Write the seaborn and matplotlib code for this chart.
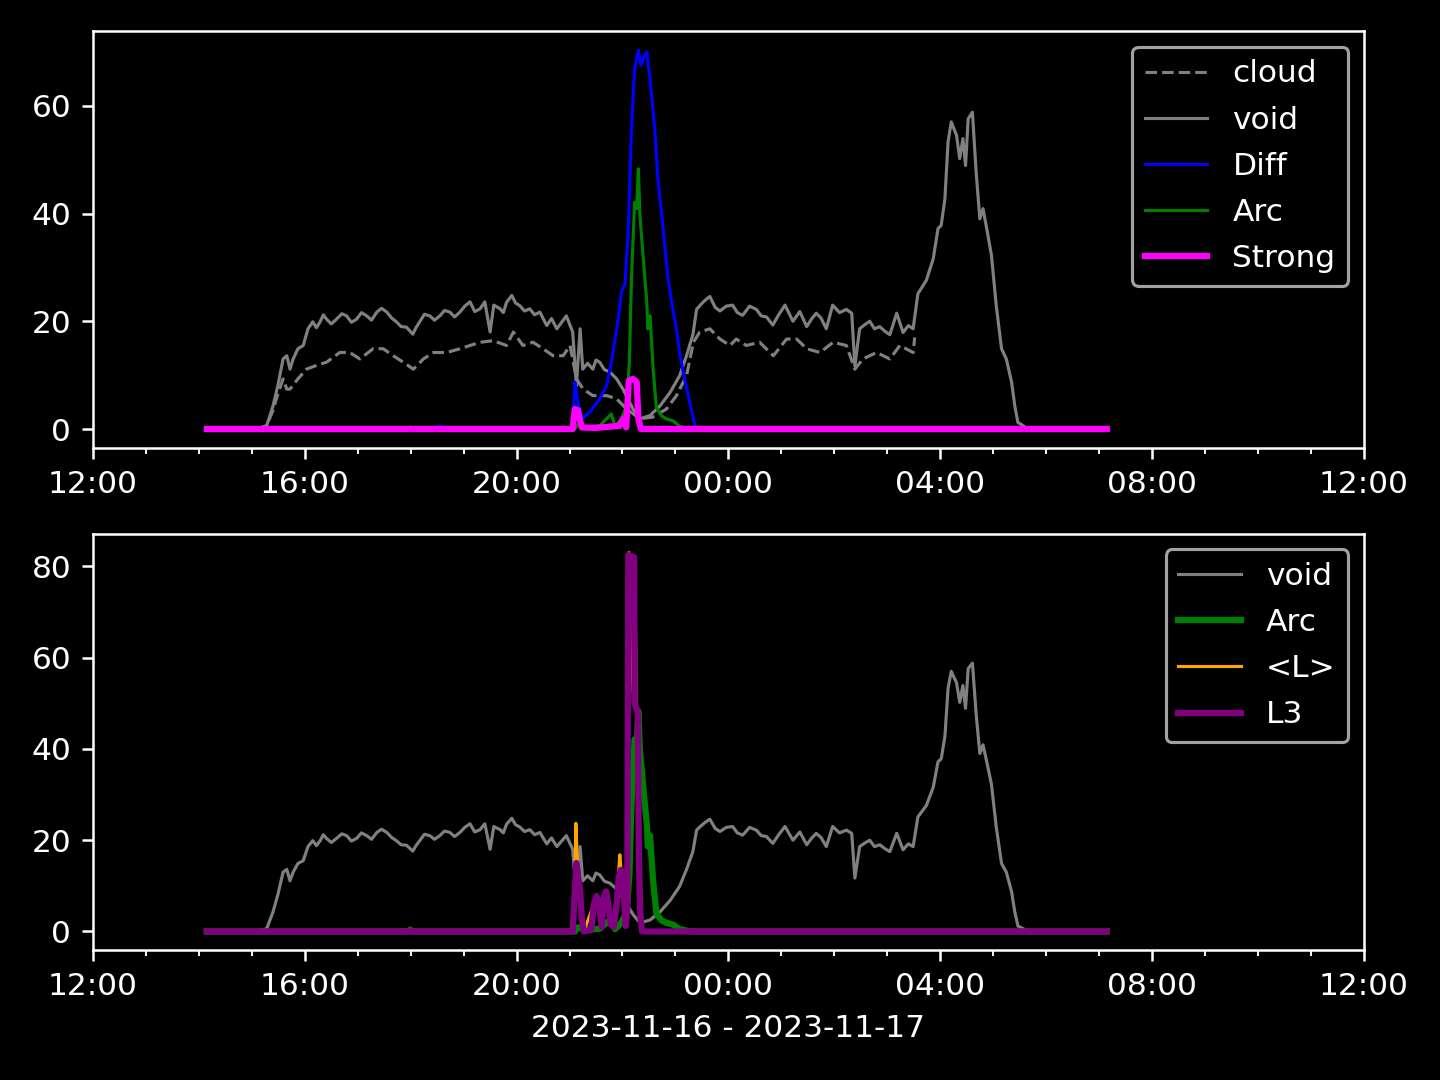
import pandas as pd
import numpy as np
import seaborn as sns
import matplotlib
matplotlib.use("Agg")
import matplotlib.pyplot as plt
import matplotlib.dates as mdates

# hours after 2023-11-16 12:00
void_h = [2.15, 3.06, 3.15, 3.28, 3.40, 3.49, 3.59, 3.66, 3.72, 3.78, 3.87, 3.97, 4.06, 4.15,
          4.22, 4.29, 4.35, 4.41, 4.50, 4.60, 4.70, 4.79, 4.88, 4.98, 5.07, 5.17, 5.26, 5.36,
          5.45, 5.55, 5.64, 5.73, 5.82, 5.92, 6.04, 6.10, 6.17, 6.26, 6.36, 6.45, 6.55, 6.64,
          6.74, 6.83, 6.93, 7.02, 7.12, 7.21, 7.31, 7.40, 7.50, 7.57, 7.69, 7.75, 7.81, 7.91,
          7.98, 8.06, 8.15, 8.25, 8.34, 8.44, 8.57, 8.66, 8.76, 8.85, 8.94, 9.06, 9.13, 9.20,
          9.25, 9.34, 9.44, 9.50, 9.57, 9.66, 9.76, 9.89, 10.01, 10.20, 10.33,
          10.52, 10.71, 10.90, 11.08, 11.21, 11.33, 11.40, 11.46, 11.55, 11.65, 11.75, 11.84,
          11.96, 12.08, 12.17, 12.27, 12.40, 12.53, 12.62, 12.72, 12.84, 12.95, 13.07, 13.15,
          13.22, 13.35, 13.48, 13.57, 13.66, 13.75, 13.85, 13.97, 14.10, 14.23, 14.33, 14.39,
          14.48, 14.58, 14.67, 14.76, 14.86, 14.95, 15.05, 15.18, 15.30, 15.40, 15.49, 15.58,
          15.74, 15.87, 15.96, 16.02, 16.09, 16.15, 16.21, 16.31, 16.37, 16.43, 16.48, 16.53,
          16.61, 16.68, 16.75, 16.81, 16.88, 16.97, 17.06, 17.16, 17.25, 17.35, 17.41, 17.47,
          17.57, 17.65, 19.15]
void_v = [0, 0, 0.2, 0.6, 4.3, 8.0, 13.0, 13.6, 11.1, 13.0, 14.9, 15.5, 18.6, 19.9,
          18.8, 19.9, 21.2, 20.4, 19.5, 20.4, 21.4, 21.0, 19.8, 20.4, 21.6, 21.0, 20.2, 21.7,
          22.4, 21.7, 20.6, 19.9, 19.0, 18.9, 17.6, 18.8, 19.9, 21.3, 21.0, 20.2, 21.0, 22.0,
          21.7, 20.8, 21.7, 22.8, 23.6, 21.8, 22.3, 23.6, 18.0, 23.0, 22.3, 21.6, 23.5, 24.8,
          23.4, 22.9, 21.9, 22.3, 21.2, 21.7, 19.2, 20.5, 18.6, 19.8, 21.0, 18.0, 8.0, 18.6,
          11.1, 12.2, 11.1, 12.8, 12.4, 11.0, 10.6, 9.3, 7.4, 3.7, 1.9,
          2.5, 4.3, 6.8, 9.9, 13.6, 17.5, 22.2, 22.9, 23.8, 24.6, 22.6, 21.9,
          22.8, 23.0, 21.6, 21.1, 22.8, 22.2, 21.0, 20.8, 19.3, 21.2, 23.0, 21.4,
          20.0, 21.8, 19.0, 20.4, 21.5, 20.6, 18.6, 23.0, 21.6, 22.2, 21.5, 11.7,
          18.6, 19.4, 20.0, 18.6, 19.0, 18.2, 17.5, 21.5, 17.9, 19.2, 18.6, 25.1,
          27.6, 31.6, 37.2, 37.8, 42.7, 53.3, 57.0, 54.5, 50.2, 53.9, 48.9, 57.6,
          58.8, 47.7, 39.0, 40.9, 37.2, 32.2, 22.9, 14.9, 13.0, 8.7, 4.3, 1.2,
          0.6, 0, 0]

cloud_h = [2.15, 3.06, 3.15, 3.28, 3.40, 3.49, 3.59, 3.66, 3.72, 3.87, 4.03, 4.22, 4.41, 4.66,
           4.85, 5.04, 5.29, 5.48, 5.67, 5.86, 6.05, 6.24, 6.43, 6.68, 6.93, 7.12, 7.31, 7.56,
           7.81, 7.94, 8.12, 8.31, 8.50, 8.69, 8.88, 9.01, 9.13, 9.26, 9.44, 9.70, 9.89, 10.08,
           10.33, 10.57, 10.83, 11.02, 11.21, 11.34, 11.46, 11.65, 11.84, 12.03, 12.15, 12.34,
           12.59, 12.85, 13.10, 13.29, 13.48, 13.73, 13.98, 14.23, 14.39, 14.54, 14.80, 15.05,
           15.24, 15.49, 15.52]
cloud_v = [0, 0, 0.2, 0.6, 3.5, 6.5, 9.3, 7.4, 7.4, 9.3, 11.1, 11.8, 12.4, 14.2,
           14.2, 13.0, 14.9, 14.9, 13.6, 12.4, 11.1, 13.0, 14.2, 14.2, 14.9, 15.5, 16.1, 16.4,
           15.5, 18.0, 15.5, 16.1, 14.9, 13.6, 13.6, 15.5, 9.3, 7.4, 6.2, 6.2, 5.6, 3.7,
           1.9, 2.2, 3.7, 6.2, 9.9, 16.1, 18.0, 18.6, 16.7, 15.5, 16.7, 15.5,
           16.1, 13.6, 16.7, 16.7, 14.9, 14.2, 16.1, 15.5, 11.1, 13.0, 14.2, 13.0,
           15.5, 14.2, 17.0]

diff_h = [2.15, 6.50, 6.55, 6.63, 9.06, 9.10, 9.14, 9.23, 9.38, 9.57, 9.70, 9.79, 9.92, 9.98,
          10.05, 10.11, 10.17, 10.23, 10.30, 10.35, 10.39, 10.46, 10.52, 10.61, 10.67, 10.77,
          10.86, 10.96, 11.02, 11.08, 11.18, 11.27, 11.37, 11.42, 19.15]
diff_v = [0, 0, 0.6, 0, 0, 8.7, 6.0, 1.9, 3.1, 5.6, 8.0, 12.4, 20.4, 25.4,
          27.0, 37.0, 55.7, 66.9, 70.3, 67.5, 68.7, 70.0, 65.0, 55.7, 46.4, 37.0,
          27.9, 21.7, 18.6, 14.0, 9.0, 5.0, 0.5, 0, 0]

arc_h = [2.15, 5.95, 5.99, 6.04, 9.10, 9.16, 9.29, 9.57, 9.79, 9.86, 9.98, 10.08, 10.13, 10.17,
         10.23, 10.27, 10.30, 10.33, 10.39, 10.46, 10.48, 10.52, 10.58, 10.64, 10.74, 10.83,
         10.96, 11.08, 11.21, 11.27, 19.15]
arc_v = [0, 0, 0.4, 0, 0, 0.9, 0.4, 0.6, 2.8, 0.5, 1.9, 4.3, 12.4, 27.9,
         42.1, 40.9, 48.3, 39.6, 32.0, 23.5, 18.6, 21.0, 11.0, 4.0, 2.4, 1.9,
         1.5, 0.5, 0.2, 0, 0]

strong_h = [2.15, 9.06, 9.10, 9.16, 9.23, 9.48, 9.95, 10.02, 10.07, 10.12, 10.20, 10.27, 10.30,
            10.35, 19.15]
strong_v = [0, 0, 3.7, 3.5, 0.3, 0.2, 0.6, 1.9, 0.3, 9.0, 9.3, 8.7, 1.9, 0, 0]

l3_h = [2.15, 9.06, 9.10, 9.13, 9.16, 9.20, 9.23, 9.27, 9.41, 9.46, 9.51, 9.55, 9.61, 9.65,
        9.69, 9.72, 9.78, 9.84, 9.89, 9.93, 9.97, 10.01, 10.06, 10.09, 10.11, 10.22, 10.23,
        10.29, 10.31, 10.34, 10.37, 19.15]
l3_v = [0, 0, 9.0, 15.0, 12.0, 9.2, 3.0, 0, 0.3, 6.0, 7.7, 6.5, 1.0, 7.5,
        8.8, 7.0, 1.5, 1.0, 6.0, 12.0, 13.5, 11.0, 1.2, 5.0, 82.5, 82.0, 50.0,
        48.0, 15.7, 3.0, 0, 0]

lmean_h = [2.15, 9.06, 9.10, 9.12, 9.16, 9.20, 9.23, 9.27, 9.46, 9.51, 9.55, 9.61, 9.65, 9.69,
           9.72, 9.78, 9.84, 9.89, 9.95, 9.98, 10.06, 10.09, 10.12, 10.18, 10.21, 10.24, 10.26,
           10.29, 10.33, 10.35, 10.38, 19.15]
lmean_v = [0, 0, 10.0, 23.7, 12.0, 9.5, 3.0, 0, 6.0, 8.0, 6.5, 1.0, 7.5, 9.0,
           7.0, 1.5, 1.0, 6.0, 16.8, 12.0, 1.2, 5.0, 83.0, 60.0, 50.0, 75.0, 49.0,
           45.0, 8.0, 5.5, 0, 0]

start = pd.Timestamp("2023-11-16 12:00")


def to_time(hours):
    return start + pd.to_timedelta(np.array(hours), unit="h")


plt.style.use("dark_background")
fig, (ax1, ax2) = plt.subplots(2, 1, figsize=(6.4, 4.8), dpi=225)

# top panel
sns.lineplot(x=to_time(cloud_h), y=cloud_v, ax=ax1, color="grey", lw=1, linestyle="--", label="cloud")
sns.lineplot(x=to_time(void_h), y=void_v, ax=ax1, color="grey", lw=1, label="void")
sns.lineplot(x=to_time(diff_h), y=diff_v, ax=ax1, color="blue", lw=1, label="Diff")
sns.lineplot(x=to_time(arc_h), y=arc_v, ax=ax1, color="green", lw=1, label="Arc")
sns.lineplot(x=to_time(strong_h), y=strong_v, ax=ax1, color="magenta", lw=2, label="Strong")

# bottom panel
sns.lineplot(x=to_time(void_h), y=void_v, ax=ax2, color="grey", lw=1, label="void")
sns.lineplot(x=to_time(arc_h), y=arc_v, ax=ax2, color="green", lw=2, label="Arc")
sns.lineplot(x=to_time(lmean_h), y=lmean_v, ax=ax2, color="orange", lw=1, label="<L>")
sns.lineplot(x=to_time(l3_h), y=l3_v, ax=ax2, color="purple", lw=2, label="L3")

for ax in (ax1, ax2):
    ax.set_xlim(start, start + pd.Timedelta(hours=24))
    ax.xaxis.set_major_locator(mdates.HourLocator(byhour=[0, 4, 8, 12, 16, 20]))
    ax.xaxis.set_minor_locator(mdates.HourLocator())
    ax.xaxis.set_major_formatter(mdates.DateFormatter("%H:%M"))
    ax.set_ylabel("")
    ax.legend(loc="upper right", labelspacing=0.55)

ax1.set_xlabel("")
ax2.set_xlabel("2023-11-16 - 2023-11-17")

plt.subplots_adjust(left=0.0646, right=0.947, top=0.971, bottom=0.120, hspace=0.206)
plt.savefig("out.png", dpi=225)
